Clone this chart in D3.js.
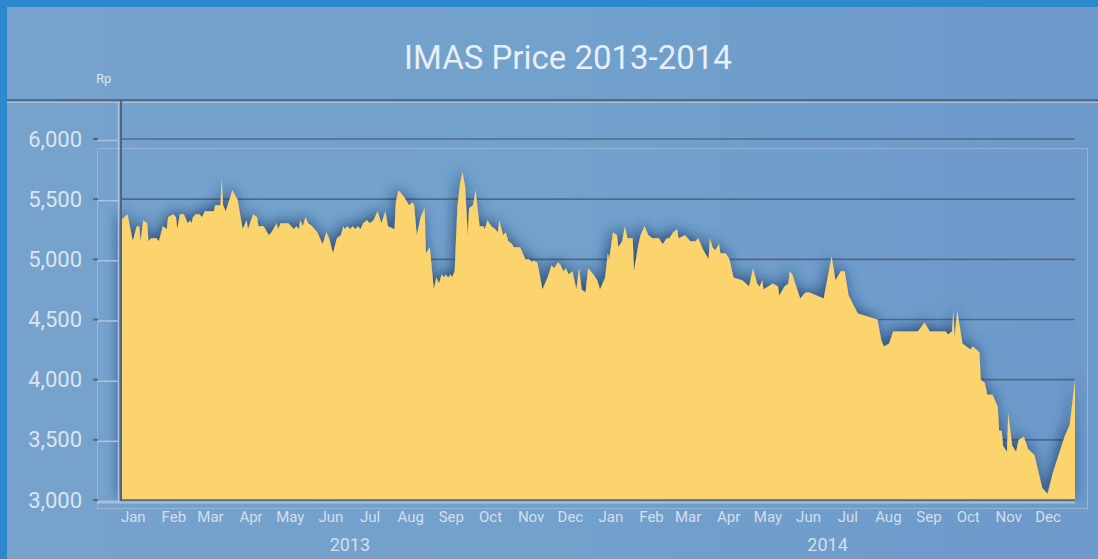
<!DOCTYPE html>
<html><head><meta charset="utf-8">
<script src="https://cdn.jsdelivr.net/npm/d3@7"></script>
<style>
html,body{margin:0;padding:0;background:#2a89cf;overflow:hidden;}
svg{display:block;}
text{font-family:Roboto,"Open Sans",sans-serif;}
</style></head><body>
<svg id="c" width="1098" height="559"></svg>
<script>
const title = "IMAS Price 2013-2014";
const unitLabel = "Rp";
const yTicks = [3000, 3500, 4000, 4500, 5000, 5500, 6000];
const years = ["2013", "2014"];
const dates = [
"2013-01-01","2013-01-06","2013-01-10","2013-01-13","2013-01-15","2013-01-16","2013-01-18","2013-01-21","2013-01-22","2013-01-24",
"2013-01-28","2013-01-30","2013-02-02","2013-02-05","2013-02-06","2013-02-10","2013-02-12","2013-02-13","2013-02-15","2013-02-18",
"2013-02-19","2013-02-21","2013-02-23","2013-02-24","2013-02-25","2013-02-27","2013-03-02","2013-03-04","2013-03-06","2013-03-13",
"2013-03-14","2013-03-18","2013-03-19","2013-03-20","2013-03-22","2013-03-25","2013-03-27","2013-03-31","2013-04-04","2013-04-07",
"2013-04-08","2013-04-12","2013-04-15","2013-04-16","2013-04-20","2013-04-24","2013-04-26","2013-04-30","2013-05-01","2013-05-03",
"2013-05-09","2013-05-13","2013-05-15","2013-05-17","2013-05-18","2013-05-20","2013-05-22","2013-05-24","2013-05-27","2013-05-31",
"2013-06-04","2013-06-07","2013-06-09","2013-06-12","2013-06-15","2013-06-18","2013-06-20","2013-06-21","2013-06-23","2013-06-25",
"2013-06-27","2013-06-29","2013-07-01","2013-07-03","2013-07-05","2013-07-08","2013-07-10","2013-07-13","2013-07-16","2013-07-19",
"2013-07-22","2013-07-24","2013-07-29","2013-07-30","2013-08-01","2013-08-05","2013-08-09","2013-08-12","2013-08-13","2013-08-15",
"2013-08-18","2013-08-21","2013-08-22","2013-08-25","2013-08-28","2013-08-30","2013-09-01","2013-09-03","2013-09-05","2013-09-06",
"2013-09-08","2013-09-10","2013-09-11","2013-09-13","2013-09-15","2013-09-17","2013-09-19","2013-09-21","2013-09-23","2013-09-24",
"2013-09-27","2013-09-29","2013-10-02","2013-10-05","2013-10-06","2013-10-08","2013-10-11","2013-10-14","2013-10-16","2013-10-17",
"2013-10-20","2013-10-22","2013-10-24","2013-10-27","2013-10-28","2013-11-02","2013-11-06","2013-11-09","2013-11-11","2013-11-12",
"2013-11-15","2013-11-16","2013-11-19","2013-11-23","2013-11-26","2013-11-28","2013-12-01","2013-12-03","2013-12-05","2013-12-07",
"2013-12-09","2013-12-12","2013-12-15","2013-12-17","2013-12-19","2013-12-22","2013-12-24","2013-12-28","2013-12-31","2014-01-02",
"2014-01-06","2014-01-08","2014-01-09","2014-01-12","2014-01-15","2014-01-16","2014-01-19","2014-01-21","2014-01-23","2014-01-27",
"2014-01-28","2014-01-31","2014-02-02","2014-02-05","2014-02-08","2014-02-11","2014-02-16","2014-02-19","2014-02-22","2014-02-24",
"2014-02-27","2014-03-02","2014-03-03","2014-03-08","2014-03-12","2014-03-16","2014-03-18","2014-03-22","2014-03-26","2014-03-27",
"2014-03-29","2014-03-31","2014-04-03","2014-04-04","2014-04-08","2014-04-11","2014-04-14","2014-04-21","2014-04-26","2014-04-29",
"2014-05-02","2014-05-04","2014-05-06","2014-05-07","2014-05-14","2014-05-18","2014-05-19","2014-05-23","2014-05-26","2014-05-27",
"2014-05-29","2014-06-04","2014-06-08","2014-06-11","2014-06-22","2014-06-28","2014-07-01","2014-07-05","2014-07-08","2014-07-11",
"2014-07-18","2014-08-02","2014-08-05","2014-08-07","2014-08-11","2014-08-14","2014-09-02","2014-09-07","2014-09-11","2014-09-23",
"2014-09-25","2014-09-28","2014-09-29","2014-09-30","2014-10-02","2014-10-06","2014-10-09","2014-10-12","2014-10-14","2014-10-19",
"2014-10-20","2014-10-23","2014-10-25","2014-10-29","2014-11-02","2014-11-03","2014-11-05","2014-11-06","2014-11-09","2014-11-10",
"2014-11-13","2014-11-16","2014-11-18","2014-11-22","2014-11-25","2014-11-30","2014-12-06","2014-12-10","2014-12-14","2014-12-23",
"2014-12-27","2014-12-31"
];
const prices = [
5325,5375,5150,5275,5275,5150,5325,5300,5150,5175,
5175,5150,5275,5250,5350,5375,5350,5250,5375,5375,
5350,5300,5325,5300,5350,5375,5375,5350,5400,5400,
5450,5450,5675,5450,5400,5500,5575,5500,5250,5325,
5250,5375,5350,5275,5275,5200,5225,5300,5250,5300,
5300,5250,5275,5250,5325,5275,5350,5300,5275,5225,
5125,5225,5175,5050,5175,5200,5275,5250,5275,5250,
5275,5250,5275,5250,5300,5325,5300,5325,5400,5300,
5400,5275,5250,5475,5575,5525,5450,5475,5450,5200,
5350,5425,5050,5100,4750,4850,4800,4875,4850,4875,
4850,4875,4850,4900,5425,5625,5725,5600,5200,5425,
5450,5575,5275,5275,5250,5325,5275,5250,5225,5325,
5200,5225,5150,5125,5100,5100,5000,5000,4975,4990,
4975,4925,4750,4850,4950,4925,4975,4950,4900,4925,
4875,4900,4750,4925,4750,4725,4925,4875,4825,4750,
4850,5050,5000,5225,5200,5100,5150,5275,5175,5175,
4900,5100,5200,5275,5200,5175,5175,5125,5175,5175,
5225,5250,5175,5200,5150,5150,5175,5075,5000,5175,
5100,5075,5125,5050,5050,5000,4850,4825,4775,4925,
4800,4775,4825,4750,4800,4775,4700,4775,4800,4900,
4875,4675,4725,4725,4675,5025,4825,4900,4900,4700,
4550,4500,4325,4275,4300,4400,4400,4475,4400,4400,
4375,4400,4575,4350,4575,4300,4275,4250,4275,4225,
4000,3975,3875,3875,3775,3575,3575,3450,3400,3725,
3450,3400,3500,3525,3425,3375,3100,3050,3225,3525,
3625,4000
];

const W = 1098, H = 559;
const svg = d3.select("#c");
const parse = d3.timeParse("%Y-%m-%d");
const data = dates.map((d, i) => ({date: parse(d), price: prices[i]}));

const x = d3.scaleTime().domain([new Date(2013,0,1), new Date(2014,11,31)]).range([121, 1075]);
const y = d3.scaleLinear().domain([3000, 6000]).range([500, 139]);

const defs = svg.append("defs");
const bg = defs.append("linearGradient").attr("id","bg").attr("x1","0").attr("x2","1").attr("y1","0").attr("y2","0");
bg.append("stop").attr("offset","0").attr("stop-color","#76a2cc");
bg.append("stop").attr("offset","0.5").attr("stop-color","#72a1cc");
bg.append("stop").attr("offset","1").attr("stop-color","#6d99cb");

const f = defs.append("filter").attr("id","sh").attr("filterUnits","userSpaceOnUse")
  .attr("x",0).attr("y",0).attr("width",W).attr("height",H);
f.append("feGaussianBlur").attr("in","SourceAlpha").attr("stdDeviation",7).attr("result","b");
f.append("feOffset").attr("in","b").attr("dx",-2).attr("dy",-3).attr("result","o");
f.append("feFlood").attr("flood-color","#1b3d68").attr("flood-opacity",0.8);
f.append("feComposite").attr("in2","o").attr("operator","in").attr("result","s");
const fm = f.append("feMerge");
fm.append("feMergeNode").attr("in","s");
fm.append("feMergeNode").attr("in","SourceGraphic");

defs.append("clipPath").attr("id","plotclip").append("rect")
  .attr("x",97).attr("y",102).attr("width",990).attr("height",398);

// frame & panel
svg.append("rect").attr("width",W).attr("height",H).attr("fill","#2a89cf");
svg.append("rect").attr("x",7).attr("y",7).attr("width",W-7).attr("height",H-7).attr("fill","url(#bg)");

// inner light border
svg.append("rect").attr("x",97.5).attr("y",148.5).attr("width",990).attr("height",360)
  .attr("fill","none").attr("stroke","#9fbbdb").attr("stroke-width",1).attr("opacity",0.8);

// top line
svg.append("line").attr("x1",7).attr("x2",W).attr("y1",100).attr("y2",100).attr("stroke","#506c8b").attr("stroke-width",2);
svg.append("line").attr("x1",7).attr("x2",W).attr("y1",102.5).attr("y2",102.5).attr("stroke","#a9c3de").attr("stroke-width",1);

// gridlines
svg.append("g").selectAll("line").data(yTicks).join("line")
  .attr("x1",121).attr("x2",1075).attr("y1",d=>y(d)).attr("y2",d=>y(d))
  .attr("stroke","#4f6a88").attr("stroke-width",1.6);

// floor band
svg.append("line").attr("x1",97).attr("x2",1075).attr("y1",y(3000)+2.5).attr("y2",y(3000)+2.5)
  .attr("stroke","#a5bfdb").attr("stroke-width",2);

// area with shadow
const area = d3.area().x(d=>x(d.date)).y0(y(3000)).y1(d=>y(d.price)).curve(d3.curveLinear);
svg.append("g").attr("clip-path","url(#plotclip)")
  .append("path").datum(data).attr("d",area).attr("fill","#fcd46e").attr("filter","url(#sh)");

// floor dark line
svg.append("line").attr("x1",121).attr("x2",1075).attr("y1",y(3000)).attr("y2",y(3000))
  .attr("stroke","#4f6a88").attr("stroke-width",1.6);

// vertical axis
svg.append("line").attr("x1",118.5).attr("x2",118.5).attr("y1",102).attr("y2",503).attr("stroke","#a9c3de").attr("stroke-width",1.5);
svg.append("line").attr("x1",121).attr("x2",121).attr("y1",100).attr("y2",501).attr("stroke","#4c6684").attr("stroke-width",2);

// y ticks on the left wall
const tk = svg.append("g");
tk.selectAll("line.l").data(yTicks).join("line").attr("class","l")
  .attr("x1",97).attr("x2",119).attr("y1",d=>y(d)+1.5).attr("y2",d=>y(d)+1.5)
  .attr("stroke","#a9c3de").attr("stroke-width",1.5);
tk.selectAll("line.d").data(yTicks).join("line").attr("class","d")
  .attr("x1",93).attr("x2",98).attr("y1",d=>y(d)).attr("y2",d=>y(d))
  .attr("stroke","#4f6a88").attr("stroke-width",2);

// y axis labels
const yAxis = d3.axisLeft(y).tickValues(yTicks).tickFormat(d3.format(",")).tickSize(0).tickPadding(0);
const ya = svg.append("g").attr("transform","translate(82,0)").call(yAxis);
ya.select(".domain").remove();
ya.selectAll("text").attr("fill","#dbe5f0").attr("font-size",22).attr("font-family","Roboto, 'Open Sans', sans-serif");

// month labels
const months = d3.timeMonth.range(new Date(2013,0,1), new Date(2015,0,1));
const xAxis = d3.axisBottom(x).tickValues(months.map(m=>d3.timeDay.offset(m,9))).tickFormat(d3.timeFormat("%b")).tickSize(0).tickPadding(0);
const xa = svg.append("g").attr("transform","translate(0,511)").call(xAxis);
xa.select(".domain").remove();
xa.selectAll("text").attr("fill","#d3dfec").attr("font-size",15).attr("font-family","Roboto, 'Open Sans', sans-serif");

// year labels
svg.append("g").selectAll("text").data(years).join("text")
  .attr("x",d=>x(new Date(+d,6,1))-8).attr("y",551).attr("text-anchor","middle")
  .attr("fill","#d3dfec").attr("font-size",18).text(d=>d);

// unit label
svg.append("text").attr("x",96).attr("y",83).attr("fill","#dbe5f0").attr("font-size",13).text(unitLabel);

// title
svg.append("text").attr("x",568).attr("y",69).attr("text-anchor","middle")
  .attr("fill","#e8eef6").attr("font-size",33).text(title);
</script>
</body></html>
